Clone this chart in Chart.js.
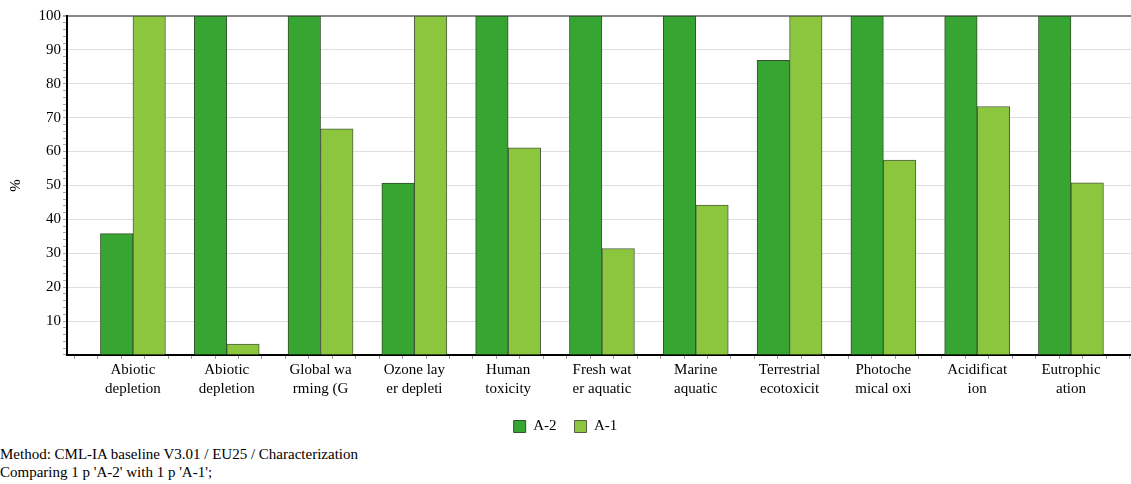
<!DOCTYPE html>
<html>
<head>
<meta charset="utf-8">
<script src="https://cdn.jsdelivr.net/npm/chart.js@4/dist/chart.umd.min.js"></script>
<style>
  html, body { margin: 0; padding: 0; background: #fff; }
  #wrap { position: relative; width: 1131px; height: 484px; }
  #chart_c { position: absolute; left: 0; top: 0; }
  .note { position: absolute; left: 0; font: 15px "Liberation Serif", "Times New Roman", serif; color: #000; white-space: nowrap; }
</style>
</head>
<body>
<div id="wrap">
  <canvas id="chart_c" width="1131" height="444"></canvas>
  <div class="note" style="top:446px">Method: CML-IA baseline V3.01 / EU25 / Characterization</div>
  <div class="note" style="top:464px">Comparing 1 p 'A-2' with 1 p 'A-1';</div>
</div>
<script>
// impact categories (labels are cut into two lines the way the report prints them)
const categories = [
  ['Abiotic', 'depletion'],
  ['Abiotic', 'depletion'],
  ['Global wa', 'rming (G'],
  ['Ozone lay', 'er depleti'],
  ['Human', 'toxicity'],
  ['Fresh wat', 'er aquatic'],
  ['Marine', 'aquatic'],
  ['Terrestrial', 'ecotoxicit'],
  ['Photoche', 'mical oxi'],
  ['Acidificat', 'ion'],
  ['Eutrophic', 'ation']
]
const seriesNames = ['A-2', 'A-1']
const valuesA2 = [35.8, 100, 100, 50.7, 100, 100, 100, 86.9, 100, 100, 100]
const valuesA1 = [100, 3.2, 66.7, 100, 61.1, 31.4, 44.2, 100, 57.5, 73.3, 50.8]
const yTicks = [10, 20, 30, 40, 50, 60, 70, 80, 90, 100]

const serif = "'Liberation Serif', 'Times New Roman', serif"

const toPoints = (vals)=> vals.map((v, i)=> ({ x: i, y: v }))

new Chart(
  document.getElementById('chart_c'),
  {
    type: 'bar',
    data: {
      datasets: [
        {
          label: seriesNames[0],
          data: toPoints(valuesA2),
          backgroundColor: '#36a532',
          borderColor: '#34502e',
          borderWidth: 1,
          barThickness: 32.5
        },
        {
          label: seriesNames[1],
          data: toPoints(valuesA1),
          backgroundColor: '#8cc63f',
          borderColor: '#4f5e45',
          borderWidth: 1,
          barThickness: 32.5
        }
      ]
    },
    options: {
      responsive: false,
      animation: false,
      layout: { padding: { top: 16, left: 0, right: 0, bottom: 0 } },
      plugins: {
        tooltip: { enabled: false },
        legend: {
          position: 'bottom',
          labels: {
            boxWidth: 12,
            boxHeight: 12,
            padding: 18,
            color: '#000',
            font: { family: serif, size: 15 }
          }
        }
      },
      scales: {
        x: {
          type: 'linear',
          min: -0.703,
          max: 10.64,
          offset: false,
          border: { color: '#000', width: 2 },
          grid: { drawOnChartArea: false, tickLength: 4, color: '#999' },
          ticks: {
            stepSize: 0.25,
            includeBounds: false,
            autoSkip: false,
            minRotation: 0,
            maxRotation: 0,
            padding: 2,
            color: '#000',
            font: { family: serif, size: 15, lineHeight: 1.27 },
            callback: (v)=> Number.isInteger(v) && categories[v] ? categories[v] : ''
          }
        },
        y: {
          min: 0,
          max: 100,
          afterFit: (scale)=> { scale.width = 67 },
          border: { color: '#000', width: 2 },
          title: {
            display: true,
            text: '%',
            color: '#000',
            font: { family: serif, size: 15 },
            padding: { top: 7, bottom: 0 }
          },
          grid: {
            tickLength: 4,
            tickColor: '#9aaabb',
            color: (ctx)=> {
              const v = ctx.tick ? ctx.tick.value : null
              if (v === 100) return '#888'
              return yTicks.includes(v) ? '#dedede' : 'rgba(0,0,0,0)'
            },
            lineWidth: (ctx)=> ctx.tick && ctx.tick.value === 100 ? 2 : 1
          },
          ticks: {
            stepSize: 2,
            autoSkip: false,
            padding: 2,
            color: '#000',
            font: { family: serif, size: 15 },
            callback: (v)=> yTicks.includes(v) ? String(v) : ''
          }
        }
      }
    }
  }
)
</script>
</body>
</html>
